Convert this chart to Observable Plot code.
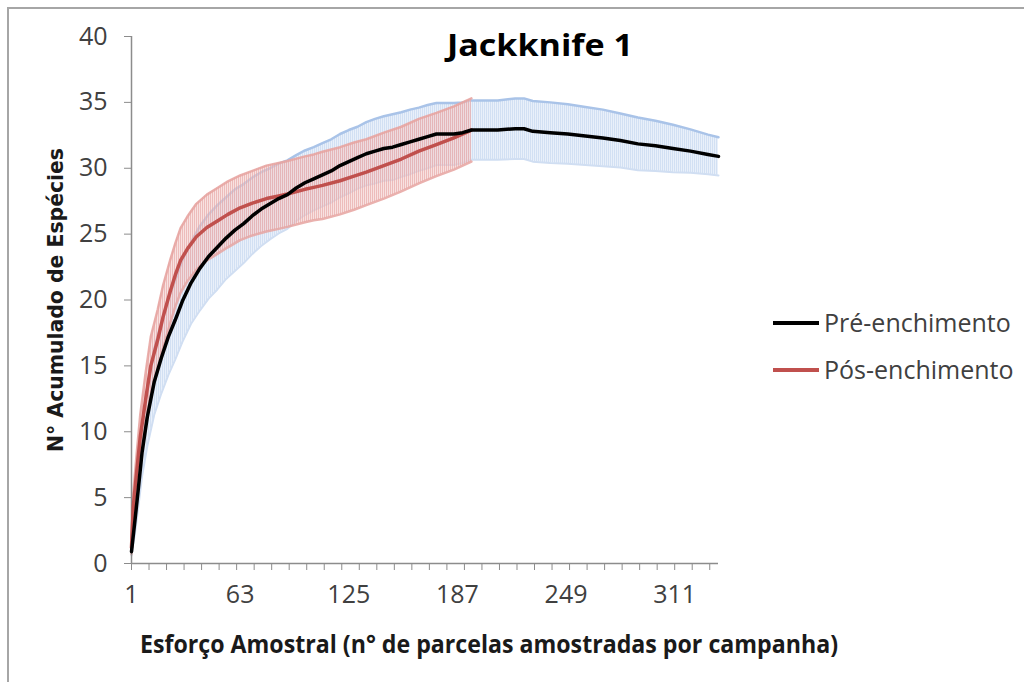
<!DOCTYPE html>
<html>
<head>
<meta charset="utf-8">
<script src="https://cdn.jsdelivr.net/npm/d3@7"></script>
<script src="https://cdn.jsdelivr.net/npm/@observablehq/plot@0.6"></script>
<style>
  html, body { margin: 0; padding: 0; background: #fff; }
  #wrap { position: relative; width: 1024px; height: 682px; overflow: hidden; background: #fff; }
  #frame { position: absolute; left: 7px; top: 7px; width: 1100px; height: 760px; border-top: 2px solid #a6a6a6; border-left: 2px solid #a6a6a6; }
  #chart, #overlay { position: absolute; left: 0; top: 0; }
  #defs { position: absolute; width: 0; height: 0; }
</style>
</head>
<body>
<svg id="defs" width="0" height="0">
  <defs>
    <pattern id="hatchBlue" patternUnits="userSpaceOnUse" width="2" height="4">
      <rect width="2" height="4" fill="#e9f0fa"></rect>
      <rect width="1" height="4" fill="#d2e0f3"></rect>
    </pattern>
    <pattern id="hatchRed" patternUnits="userSpaceOnUse" width="2" height="4">
      <rect width="2" height="4" fill="#f1c9c8" fill-opacity="0.55"></rect>
      <rect width="1" height="4" fill="#e6a3a1" fill-opacity="0.6"></rect>
    </pattern>
  </defs>
</svg>
<div id="wrap">
  <div id="frame"></div>
  <div id="chart"></div>
  <svg id="overlay" width="1024" height="682"></svg>
</div>
<script>
// ---- data ----
const title = "Jackknife 1";
const xTitle = "Esforço Amostral (n° de parcelas amostradas por campanha)";
const yTitle = "N° Acumulado de Espécies";
const seriesNames = ["Pré-enchimento", "Pós-enchimento"];

const xLabelTicks = [1, 63, 125, 187, 249, 311];
const xMinorTicks = [1, 11, 21, 31, 41, 51, 61, 71, 81, 91, 101, 111, 121, 131, 141, 151, 161, 171, 181, 191, 201, 211, 221, 231, 241, 251, 261, 271, 281, 291, 301, 311, 321, 331];
const yTicks = [0, 5, 10, 15, 20, 25, 30, 35, 40];

// Pré-enchimento (black): sampling effort, mean, error (±)
const preX = [1, 3, 5, 7, 10, 14, 18, 22, 26, 30, 35, 40, 45, 50, 55, 60, 65, 70, 75, 80, 85, 90, 95, 100, 105, 110, 115, 120, 125, 130, 135, 140, 145, 150, 155, 160, 165, 170, 175, 180, 185, 190, 195, 200, 210, 220, 225, 230, 240, 250, 260, 270, 280, 290, 300, 310, 320, 330, 336];
const preY = [0.9, 3.3, 5.8, 8.4, 11.1, 13.8, 15.6, 17.2, 18.5, 19.9, 21.3, 22.4, 23.3, 24.0, 24.7, 25.3, 25.8, 26.4, 26.9, 27.3, 27.7, 28.0, 28.5, 28.9, 29.2, 29.5, 29.8, 30.2, 30.5, 30.8, 31.1, 31.3, 31.5, 31.6, 31.8, 32.0, 32.2, 32.4, 32.6, 32.6, 32.6, 32.7, 32.9, 32.9, 32.9, 33.0, 33.0, 32.8, 32.7, 32.6, 32.45, 32.3, 32.1, 31.85, 31.7, 31.5, 31.3, 31.05, 30.9];
const preE = [0.3, 1.0, 1.4, 1.8, 2.2, 2.5, 2.7, 2.9, 3.0, 3.1, 3.1, 3.2, 3.2, 3.2, 3.1, 3.1, 3.0, 2.9, 2.8, 2.7, 2.65, 2.6, 2.5, 2.45, 2.4, 2.4, 2.4, 2.4, 2.4, 2.35, 2.4, 2.45, 2.45, 2.5, 2.45, 2.45, 2.4, 2.4, 2.35, 2.35, 2.35, 2.3, 2.25, 2.25, 2.25, 2.3, 2.3, 2.3, 2.3, 2.25, 2.2, 2.15, 2.05, 2.0, 1.9, 1.8, 1.65, 1.5, 1.45];

// Pós-enchimento (red)
const posX = [1, 2, 4, 6, 9, 12, 16, 19, 23, 26, 29, 33, 38, 44, 50, 56, 63, 70, 78, 85, 90, 100, 105, 110, 120, 128, 135, 145, 155, 165, 175, 185, 195];
const posY = [1.2, 4.3, 7.0, 9.6, 12.4, 15.0, 17.0, 18.7, 20.6, 21.9, 23.0, 23.9, 24.8, 25.5, 26.0, 26.5, 27.0, 27.35, 27.7, 27.9, 28.05, 28.4, 28.55, 28.7, 29.05, 29.4, 29.7, 30.2, 30.7, 31.3, 31.8, 32.3, 32.9];
const posE = [0.5, 1.0, 1.4, 1.7, 2.0, 2.2, 2.3, 2.4, 2.4, 2.4, 2.45, 2.45, 2.5, 2.5, 2.5, 2.5, 2.45, 2.45, 2.5, 2.5, 2.5, 2.5, 2.5, 2.55, 2.55, 2.55, 2.5, 2.5, 2.45, 2.45, 2.4, 2.4, 2.4];

// ---- build tables ----
const pre = preX.map((x, i) => ({x, y: preY[i], lo: preY[i] - preE[i], hi: preY[i] + preE[i]}));
const pos = posX.map((x, i) => ({x, y: posY[i], lo: posY[i] - posE[i], hi: posY[i] + posE[i]}));

const axisGray = "#8c8c8c";
const chart = Plot.plot({
  width: 1024,
  height: 682,
  marginLeft: 131,
  marginRight: 306,
  marginTop: 36,
  marginBottom: 119,
  x: {domain: [1, 336]},
  y: {domain: [0, 40]},
  style: {fontFamily: "'Open Sans', sans-serif", fontSize: "25px", color: "#404040", background: "transparent"},
  marks: [
    Plot.areaY(pre, {x: "x", y1: "lo", y2: "hi", fill: "url(#hatchBlue)"}),
    Plot.line(pre, {x: "x", y: "hi", stroke: "#a9c3e8", strokeWidth: 2.5}),
    Plot.line(pre, {x: "x", y: "lo", stroke: "#d0def2", strokeWidth: 2}),
    Plot.areaY(pos, {x: "x", y1: "lo", y2: "hi", fill: "url(#hatchRed)"}),
    Plot.line(pos, {x: "x", y: "hi", stroke: "#e6a3a0", strokeWidth: 2.5, strokeOpacity: 0.85}),
    Plot.line(pos, {x: "x", y: "lo", stroke: "#e6a3a0", strokeWidth: 2.5, strokeOpacity: 0.85}),
    Plot.ruleX([1], {stroke: axisGray, strokeWidth: 1.5}),
    Plot.ruleY([0], {stroke: axisGray, strokeWidth: 1.5}),
    Plot.axisY({ticks: yTicks, tickSize: 7, tickPadding: 17, stroke: axisGray, fill: "#404040", label: null, fontSize: 25}),
    Plot.axisX({ticks: xMinorTicks, tickSize: 7, tickFormat: () => "", stroke: axisGray, label: null}),
    Plot.axisX({ticks: xLabelTicks, tickSize: 0, tickPadding: 22, fill: "#404040", label: null, fontSize: 25}),
    Plot.line(pos, {x: "x", y: "y", stroke: "#c0504d", strokeWidth: 3.5}),
    Plot.line(pre, {x: "x", y: "y", stroke: "#000000", strokeWidth: 3.5})
  ]
});
document.getElementById("chart").appendChild(chart);

// ---- titles and legend ----
const ov = d3.select("#overlay");
ov.append("text").text(title)
  .attr("x", 540).attr("y", 56).attr("text-anchor", "middle")
  .attr("font-family", "'Open Sans', sans-serif").attr("font-weight", "bold").attr("font-size", 31)
  .attr("fill", "#000").attr("textLength", 186).attr("lengthAdjust", "spacingAndGlyphs");
ov.append("text").text(xTitle)
  .attr("x", 489).attr("y", 653).attr("text-anchor", "middle")
  .attr("font-family", "'Open Sans', sans-serif").attr("font-weight", "bold").attr("font-size", 25)
  .attr("fill", "#1a1a1a").attr("textLength", 698).attr("lengthAdjust", "spacingAndGlyphs");
ov.append("text").text(yTitle)
  .attr("transform", "translate(63,300) rotate(-90)").attr("text-anchor", "middle")
  .attr("font-family", "'DejaVu Sans', sans-serif").attr("font-weight", "bold").attr("font-size", 22)
  .attr("fill", "#1a1a1a").attr("textLength", 304).attr("lengthAdjust", "spacingAndGlyphs");

const legendColors = ["#000000", "#c0504d"];
const legendY = [323, 370];
seriesNames.forEach((name, i) => {
  ov.append("line").attr("x1", 773).attr("x2", 819).attr("y1", legendY[i]).attr("y2", legendY[i])
    .attr("stroke", legendColors[i]).attr("stroke-width", 4);
  ov.append("text").text(name).attr("x", 824).attr("y", legendY[i] + 9)
    .attr("font-family", "'Open Sans', sans-serif").attr("font-size", 25).attr("fill", "#404040");
});
</script>
</body>
</html>
